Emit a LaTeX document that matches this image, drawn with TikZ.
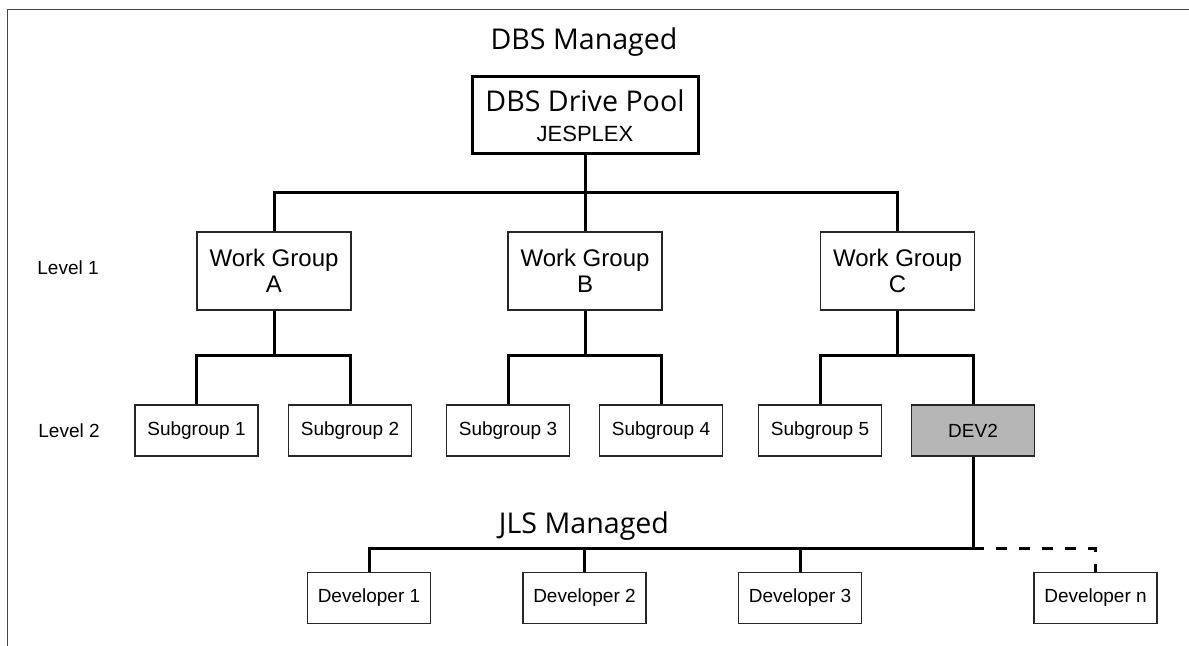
\documentclass[tikz,border=0pt]{standalone}
\usepackage{fontspec}
\setmainfont{Liberation Sans}
\newfontfamily\titlefont{Open Sans}
\definecolor{devgray}{RGB}{182,182,182}
\definecolor{framegray}{RGB}{70,70,70}
\begin{document}
\begin{tikzpicture}[x=0.5pt,y=-0.5pt,
  box/.style={draw=black!85, line width=0.65pt, fill=white, inner sep=0pt, align=center},
  smallbox/.style={box, minimum width=61.5pt, minimum height=25.5pt, font=\fontsize{9.5}{11}\selectfont},
  wgbox/.style={box, minimum width=77pt, minimum height=39pt, font=\fontsize{12}{13}\selectfont},
  poolbox/.style={box, draw=black, line width=1.5pt, minimum width=113pt, minimum height=38.5pt, font=\fontsize{11}{15}\selectfont},
  title/.style={inner sep=0pt, anchor=base, font=\titlefont\fontsize{14.3}{16}\selectfont},
  levellabel/.style={inner sep=0pt, anchor=west, font=\fontsize{9.5}{11}\selectfont},
  link/.style={line width=1.5pt},
  dashlink/.style={line width=1.5pt, dash pattern=on 5.5pt off 6pt}]
\useasboundingbox (0,0) rectangle (1189,646);

% page frame
\draw[framegray, line width=0.7pt] (7.5,646) -- (7.5,9.5) -- (1189,9.5);

% titles and level labels
\node[title] (dbs) at (584,50) {DBS Managed};
\node[title] (jls) at (584,533) {JLS Managed};
\node[levellabel] (lv1) at (37,268) {Level 1};
\node[levellabel] (lv2) at (38,430.5) {Level 2};

% boxes
\node[poolbox] (pool) at (585,115.5) {{\titlefont\fontsize{14.3}{15}\selectfont DBS Drive Pool}\\JESPLEX};

\node[wgbox] (wgA) at (274,271) {Work Group\\A};
\node[wgbox] (wgB) at (585,271) {Work Group\\B};
\node[wgbox] (wgC) at (897.5,271) {Work Group\\C};

\node[smallbox] (sub1) at (196.5,430.5) {Subgroup 1};
\node[smallbox] (sub2) at (350,430.5) {Subgroup 2};
\node[smallbox] (sub3) at (508,430.5) {Subgroup 3};
\node[smallbox] (sub4) at (661,430.5) {Subgroup 4};
\node[smallbox] (sub5) at (820,430.5) {Subgroup 5};
\node[smallbox, fill=devgray] (dev2) at (973,430.5) {DEV2};

\node[smallbox] (d1) at (369,598) {Developer 1};
\node[smallbox] (d2) at (584.5,598) {Developer 2};
\node[smallbox] (d3) at (800,598) {Developer 3};
\node[smallbox] (dn) at (1095.5,598) {Developer n};

% bus junctions
\coordinate (busTop) at (585,193);
\coordinate (busA) at (274,356);
\coordinate (busB) at (585,356);
\coordinate (busC) at (897.5,356);
\coordinate (busJ) at (973,548);

% connectors
\draw[link] (pool.south) -- (busTop);
\draw[link] (wgA.north) |- (busTop) -| (wgC.north);
\draw[link] (busTop) -- (wgB.north);

\draw[link] (wgA.south) -- (busA);
\draw[link] (sub1.north) |- (busA) -| (sub2.north);
\draw[link] (wgB.south) -- (busB);
\draw[link] (sub3.north) |- (busB) -| (sub4.north);
\draw[link] (wgC.south) -- (busC);
\draw[link] (sub5.north) |- (busC) -| (dev2.north);

\draw[link] (dev2.south) -- (busJ);
\draw[link] (d1.north) |- (busJ);
\draw[link] (d2.north) -- (d2.north |- busJ);
\draw[link] (d3.north) -- (d3.north |- busJ);
\draw[dashlink] (busJ) -| (dn.north);
\end{tikzpicture}
\end{document}
